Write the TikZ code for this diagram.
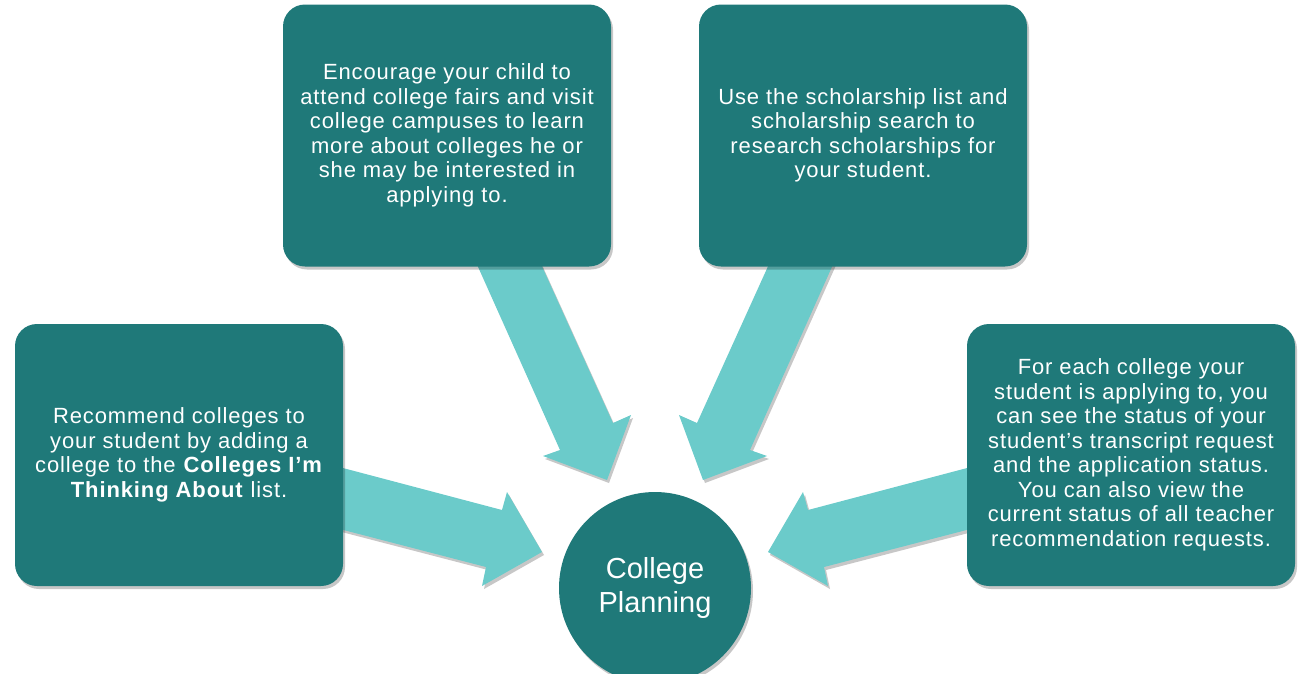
\documentclass[tikz,border=0pt]{standalone}
\usepackage{fontspec}
\setmainfont{Liberation Sans}[LetterSpace=4]
\newfontfamily\plainfont{Liberation Sans}
\usetikzlibrary{shadows}
\definecolor{darkteal}{RGB}{31,121,121}
\definecolor{lightteal}{RGB}{107,203,202}
\tikzset{
  softshadow/.style={drop shadow={shadow xshift=2pt, shadow yshift=-3pt, opacity=.22, fill=black}},
  infobox/.style={rectangle, rounded corners=22pt, fill=darkteal, text=white,
    minimum width=328pt, minimum height=262pt, inner sep=0pt, align=center,
    font=\fontsize{22}{24.5}\selectfont, softshadow},
  hub/.style={circle, fill=darkteal, text=white, minimum size=192pt, inner sep=0pt,
    align=center, font=\plainfont\fontsize{29}{34}\selectfont, softshadow},
  blockarrow/.style={fill=lightteal, softshadow}
}
\begin{document}
\begin{tikzpicture}[x=1pt,y=-1pt]
\useasboundingbox (0,0) rectangle (1303,673);
% block arrows (tails run under the boxes)
\fill[blockarrow] (305,458) -- (502,510) -- (507,492) -- (542,552) -- (482,586) -- (486,567) -- (305,520) -- cycle;
\fill[blockarrow] (1005,458) -- (808,510) -- (803,492) -- (768,552) -- (828,586) -- (824,567) -- (1005,520) -- cycle;
\fill[blockarrow] (462,231) -- (560,450) -- (543,456) -- (607,480) -- (631,415) -- (613,423) -- (526,231) -- cycle;
\fill[blockarrow] (848,231) -- (750,450) -- (767,456) -- (703,480) -- (679,415) -- (697,423) -- (784,231) -- cycle;
% boxes
\node[infobox] (b1) at (179,455) {Recommend colleges to\\your student by adding a\\college to the \textbf{Colleges I’m}\\\textbf{Thinking About} list.};
\node[infobox] (b2) at (447,135.5) {Encourage your child to\\attend college fairs and visit\\college campuses to learn\\more about colleges he or\\she may be interested in\\applying to.};
\node[infobox] (b3) at (863,135.5) {Use the scholarship list and\\scholarship search to\\research scholarships for\\your student.};
\node[infobox] (b4) at (1131,455) {For each college your\\student is applying to, you\\can see the status of your\\student’s transcript request\\and the application status.\\You can also view the\\current status of all teacher\\recommendation requests.};
% hub
\node[hub] (hub) at (655,588) {College\\Planning};
\end{tikzpicture}
\end{document}
